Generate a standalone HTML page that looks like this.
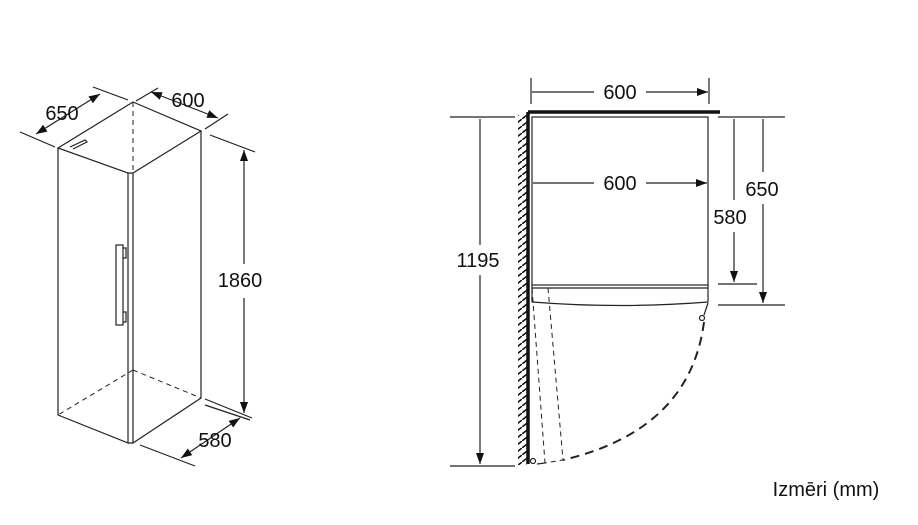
<!DOCTYPE html>
<html><head><meta charset="utf-8"><style>
body{margin:0;background:#fff}
svg{display:block}
text{font-family:"Liberation Sans",sans-serif;font-size:20px;fill:#111}
</style></head><body>
<svg width="918" height="525" viewBox="0 0 918 525">
<defs>
<marker id="a" viewBox="0 0 10 10" refX="10" refY="5" markerWidth="11" markerHeight="9" orient="auto-start-reverse" markerUnits="userSpaceOnUse" preserveAspectRatio="none"><path d="M0,0.5 L10,5 L0,9.5 z" fill="#111"/></marker>
<pattern id="h" width="9" height="7" patternUnits="userSpaceOnUse"><path d="M0,7 L9,0" stroke="#111" stroke-width="1.6"/></pattern>
</defs>
<g stroke="#222" stroke-width="1.2" fill="none">
<path d="M58,148 L133,102 L201,131 L133,173 L128,173 L58,148 Z"/>
<path d="M58,148 L58,415 L128,443 L128,173"/>
<path d="M133,173 L133,443 L128,443"/>
<path d="M133,443 L201,398 L201,131"/>
<path d="M133,102 L133,370 M133,370 L58,415 M133,370 L201,398" stroke-dasharray="5,4" stroke-width="1"/>
<path d="M70,147 L85,140 L87,142 L73,149"/>
<rect x="116" y="245" width="7" height="80"/>
<path d="M123,248 L126,248 L126,258 L123,258 M123,312 L126,312 L126,322 L123,322"/>
<path d="M20,132 L55,147 M93,87 L128,100"/>
<path d="M36,134 L100,94" marker-start="url(#a)" marker-end="url(#a)"/>
<path d="M136,101 L158,88 M205,129 L228,114"/>
<path d="M151,92 L218,118" marker-start="url(#a)" marker-end="url(#a)"/>
<path d="M210,135 L255,152 M205,399 L252,418"/>
<path d="M244,264 L244,150" marker-end="url(#a)"/>
<path d="M244,298 L244,413" marker-end="url(#a)"/>
<path d="M140,445 L195,466 M205,405 L250,420"/>
<path d="M181,458 L240,418" marker-start="url(#a)" marker-end="url(#a)"/>
<rect x="518" y="115" width="9" height="350" fill="url(#h)" stroke="none"/>
<path d="M528,112 L528,464 M528,112 L720,112" stroke-width="3.5" stroke="#111"/>
<rect x="532" y="117" width="176" height="168"/>
<path d="M532,285 L532,302 Q620,309 708,302 L708,285 M532,288 L708,288"/>
<path d="M532,288 L545,463 M548,288 L563,460 L545,463" stroke-dasharray="5,4" stroke-width="1"/>
<circle cx="533" cy="461" r="2.5"/>
<circle cx="702" cy="318" r="2.5"/>
<path d="M708,303 L704,315"/>
<path d="M704,322 Q690,430 563,460" stroke-dasharray="9,6" stroke-width="2"/>
<path d="M537,464 L545,463"/>
<path d="M531,78 L531,104 M709,78 L709,104"/>
<path d="M594,92 L532,92 M646,92 L708,92" marker-end="url(#a)"/>
<path d="M594,183 L533,183 M646,183 L707,183" marker-end="url(#a)"/>
<path d="M450,117 L515,117 M450,466 L515,466"/>
<path d="M480,245 L480,119 M480,275 L480,464" marker-end="url(#a)"/>
<path d="M718,117 L785,117 M718,284 L757,284 M718,305 L785,305"/>
<path d="M734,200 L734,119 M734,232 L734,282" marker-end="url(#a)"/>
<path d="M763,172 L763,119 M763,204 L763,303" marker-end="url(#a)"/>
</g>
<text x="62" y="120" text-anchor="middle">650</text>
<text x="188" y="107" text-anchor="middle">600</text>
<text x="240" y="287" text-anchor="middle">1860</text>
<text x="215" y="447" text-anchor="middle">580</text>
<text x="620" y="99" text-anchor="middle">600</text>
<text x="620" y="190" text-anchor="middle">600</text>
<text x="478" y="267" text-anchor="middle">1195</text>
<text x="730" y="224" text-anchor="middle">580</text>
<text x="762" y="196" text-anchor="middle">650</text>
<text x="826" y="496" text-anchor="middle">Izmēri (mm)</text>
</svg>
</body></html>
